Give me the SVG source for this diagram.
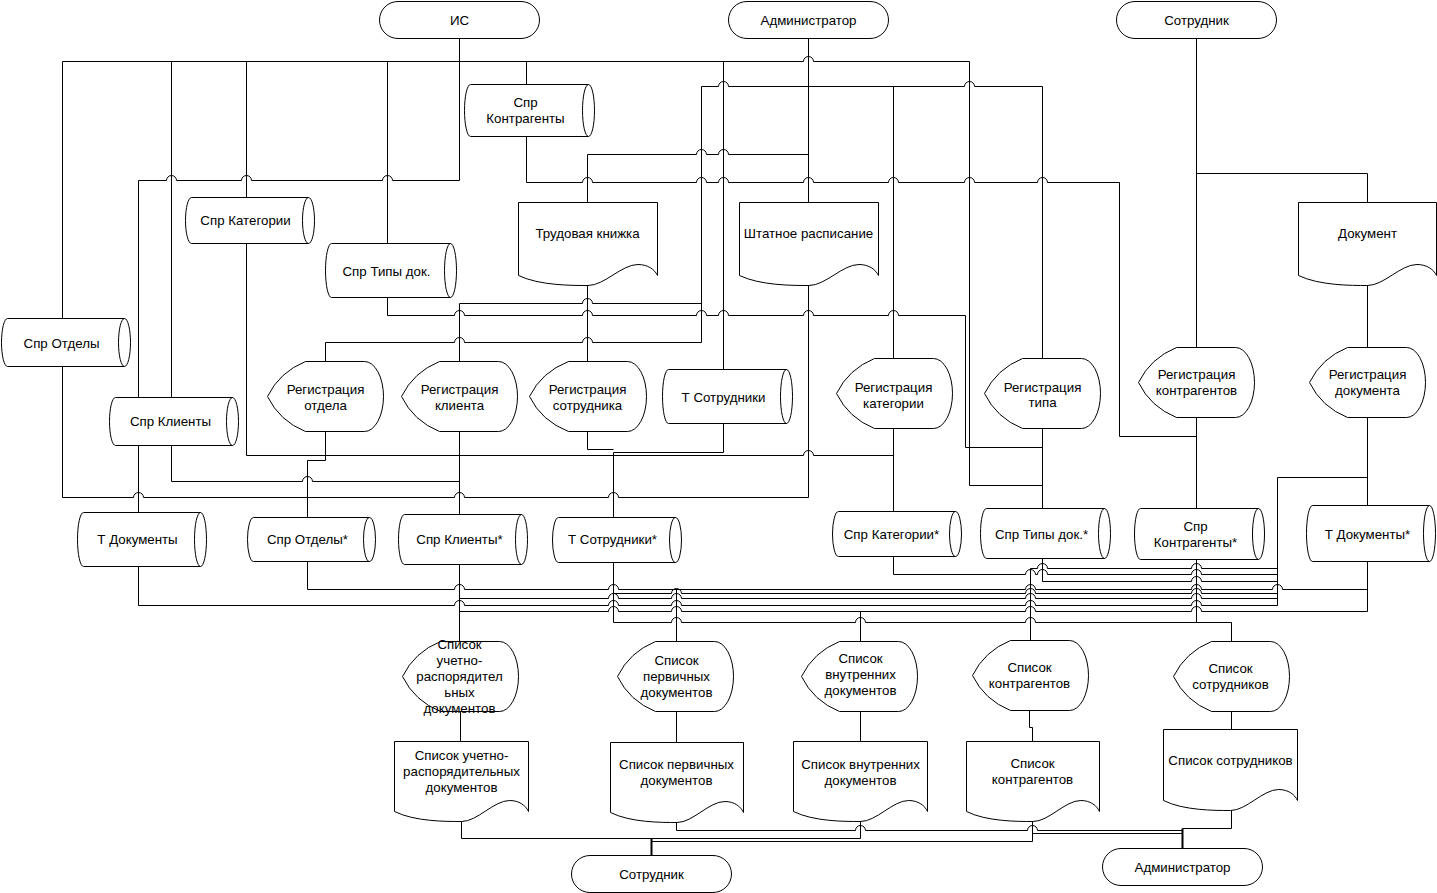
<svg xmlns="http://www.w3.org/2000/svg" width="1437" height="893" viewBox="0 0 1437 893">
<style>
.s{fill:#fff;stroke:#000;stroke-width:1}
.c{fill:none;stroke:#000;stroke-width:1}
text{font-family:"Liberation Sans",Arial,sans-serif;font-size:13.3px;fill:#000;text-anchor:middle}
</style>
<rect x="0" y="0" width="1437" height="893" fill="#fff"/>
<g transform="translate(0.5,0.5)">
<g id="connectors" class="c">
<path d="M459,38 V180 H392 A5,5 0 0 0 382,180 H251 A5,5 0 0 0 241,180 H176 A5,5 0 0 0 166,180 H138 V397"/>
<path d="M62,318 V61 H803 A5,5 0 0 1 813,61 H969 V485 H1042"/>
<path d="M171,61 V397 M246,61 V197 M387,61 V243 M526,61 V84 M723,61 V369"/>
<path d="M62,366 V497 H133 A5,5 0 0 1 143,497 H454 A5,5 0 0 1 464,497 H608 A5,5 0 0 1 618,497 H808 V275"/>
<path d="M246,243 V455 H803 A5,5 0 0 1 813,455 H893"/>
<path d="M171,445 V481 H302 A5,5 0 0 1 312,481 H459"/>
<path d="M138,445 V512"/>
<path d="M387,297 V315 H454 A5,5 0 0 1 464,315 H582 A5,5 0 0 1 592,315 H696 A5,5 0 0 1 706,315 H718 A5,5 0 0 1 728,315 H803 A5,5 0 0 1 813,315 H888 A5,5 0 0 1 898,315 H965 V447 H1042"/>
<path d="M526,136 V182 H582 A5,5 0 0 1 592,182 H696 A5,5 0 0 1 706,182 H718 A5,5 0 0 1 728,182 H803 A5,5 0 0 1 813,182 H888 A5,5 0 0 1 898,182 H964 A5,5 0 0 1 974,182 H1037 A5,5 0 0 1 1047,182 H1119 V436 H1196"/>
<path d="M808,38 V202"/>
<path d="M701,342 V86 H718 A5,5 0 0 1 728,86 H964 A5,5 0 0 1 974,86 H1042 V358 M893,86 V358"/>
<path d="M459,361 V303 H582 A5,5 0 0 1 592,303 H701"/>
<path d="M325,361 V342 H454 A5,5 0 0 1 464,342 H582 A5,5 0 0 1 592,342 H701"/>
<path d="M808,154 H728 A5,5 0 0 0 718,154 H706 A5,5 0 0 0 696,154 H587 V202"/>
<path d="M587,275 V361"/>
<path d="M723,423 V452 H613 V517 M587,431 V449 H613"/>
<path d="M325,431 V460 H307 V517"/>
<path d="M459,431 V514"/>
<path d="M893,428 V511 M1042,428 V508"/>
<path d="M1196,38 V347 M1196,173 H1367 V202 M1367,275 V347"/>
<path d="M1196,417 V508 M1367,417 V505 M1367,477 H1277 V605"/>
<path d="M893,556 V574 H1025 A5,5 0 0 1 1035,574 H1037 A5,5 0 0 1 1047,574 H1191 A5,5 0 0 1 1201,574 H1277"/>
<path d="M1030,640 V568 H1037 A5,5 0 0 1 1047,568 H1191 A5,5 0 0 1 1201,568 H1277"/>
<path d="M1042,558 V581 H1191 A5,5 0 0 1 1201,581 H1277"/>
<path d="M1196,559 V622"/>
<path d="M307,561 V589 H454 A5,5 0 0 1 464,589 H608 A5,5 0 0 1 618,589 H1025 A5,5 0 0 1 1035,589 H1191 A5,5 0 0 1 1201,589 H1272 A5,5 0 0 1 1282,589 H1367"/>
<path d="M676,589 V641"/>
<path d="M613,593 H671 A5,5 0 0 1 681,593 H1025 A5,5 0 0 1 1035,593 H1191 A5,5 0 0 1 1201,593 H1277"/>
<path d="M459,598 H608 A5,5 0 0 1 618,598 H671 A5,5 0 0 1 681,598 H1025 A5,5 0 0 1 1035,598 H1191 A5,5 0 0 1 1201,598 H1277"/>
<path d="M138,566 V605 H454 A5,5 0 0 1 464,605 H608 A5,5 0 0 1 618,605 H671 A5,5 0 0 1 681,605 H1025 A5,5 0 0 1 1035,605 H1191 A5,5 0 0 1 1201,605 H1277"/>
<path d="M459,611 H608 A5,5 0 0 1 618,611 H671 A5,5 0 0 1 681,611 H1025 A5,5 0 0 1 1035,611 H1191 A5,5 0 0 1 1201,611 H1367 V561"/>
<path d="M860,611 V641"/>
<path d="M613,562 V622 H671 A5,5 0 0 1 681,622 H855 A5,5 0 0 1 865,622 H1025 A5,5 0 0 1 1035,622 H1231 V641"/>
<path d="M459,564 V641"/>
<path d="M460,711 V741 M676,711 V742 M860,711 V741 M1029,710 V727 H1032 V741 M1231,711 V729"/>
<path d="M461,815 V838 H860 V815"/>
<path d="M651,838 V855" stroke-width="2"/>
<path d="M676,815 V830 H855 A5,5 0 0 1 865,830 H1027 A5,5 0 0 1 1037,830 H1182"/>
<path d="M1182,828 V848" stroke-width="2"/>
<path d="M1032,815 V841 H651"/>
<path d="M1032,833 H1182"/>
<path d="M1231,800 V828 H1182"/>
</g>

<g id="t-is"><rect class="s" x="379" y="1" width="160" height="37" rx="18.5"/><text x="459" y="24">ИС</text></g>
<g id="t-admin-top"><rect class="s" x="728" y="1" width="160" height="37" rx="18.5"/><text x="808" y="24">Администратор</text></g>
<g id="t-sotr-top"><rect class="s" x="1116" y="1" width="160" height="37" rx="18.5"/><text x="1196" y="24">Сотрудник</text></g>
<g id="t-sotr-bottom"><rect class="s" x="571" y="855" width="160" height="37" rx="18.5"/><text x="651" y="878">Сотрудник</text></g>
<g id="t-admin-bottom"><rect class="s" x="1102" y="848" width="160" height="37" rx="18.5"/><text x="1182" y="871">Администратор</text></g>

<g id="ds-kontragenty"><path class="s" d="M470,84 H588 A6,26 0 0 1 588,136 H470 A6,26 0 0 1 470,84 Z M588,84 A6,26 0 0 0 588,136"/><text x="525" y="106">Спр</text><text x="525" y="122">Контрагенты</text></g>
<g id="ds-kategorii"><path class="s" d="M191,197 H308 A6,23 0 0 1 308,243 H191 A6,23 0 0 1 191,197 Z M308,197 A6,23 0 0 0 308,243"/><text x="245" y="224">Спр Категории</text></g>
<g id="ds-tipy"><path class="s" d="M331,243 H450 A6,27 0 0 1 450,297 H331 A6,27 0 0 1 331,243 Z M450,243 A6,27 0 0 0 450,297"/><text x="386" y="275">Спр Типы док.</text></g>
<g id="ds-otdely"><path class="s" d="M7,318 H124 A6,24 0 0 1 124,366 H7 A6,24 0 0 1 7,318 Z M124,318 A6,24 0 0 0 124,366"/><text x="61" y="347">Спр Отделы</text></g>
<g id="ds-klienty"><path class="s" d="M115,397 H232 A6,24 0 0 1 232,445 H115 A6,24 0 0 1 115,397 Z M232,397 A6,24 0 0 0 232,445"/><text x="170" y="425">Спр Клиенты</text></g>
<g id="ds-t-sotr"><path class="s" d="M668,369 H786 A6,27 0 0 1 786,423 H668 A6,27 0 0 1 668,369 Z M786,369 A6,27 0 0 0 786,423"/><text x="723" y="401">Т Сотрудники</text></g>
<g id="ds-t-doc"><path class="s" d="M83,512 H200 A6,27 0 0 1 200,566 H83 A6,27 0 0 1 83,512 Z M200,512 A6,27 0 0 0 200,566"/><text x="137" y="543">Т Документы</text></g>
<g id="ds-otdely2"><path class="s" d="M253,517 H369 A6,22 0 0 1 369,561 H253 A6,22 0 0 1 253,517 Z M369,517 A6,22 0 0 0 369,561"/><text x="307" y="543">Спр Отделы*</text></g>
<g id="ds-klienty2"><path class="s" d="M404,514 H521 A6,25 0 0 1 521,564 H404 A6,25 0 0 1 404,514 Z M521,514 A6,25 0 0 0 521,564"/><text x="459" y="543">Спр Клиенты*</text></g>
<g id="ds-t-sotr2"><path class="s" d="M558,517 H675 A6,22.5 0 0 1 675,562 H558 A6,22.5 0 0 1 558,517 Z M675,517 A6,22.5 0 0 0 675,562"/><text x="612" y="543">Т Сотрудники*</text></g>
<g id="ds-kategorii2"><path class="s" d="M838,511 H955 A6,22.5 0 0 1 955,556 H838 A6,22.5 0 0 1 838,511 Z M955,511 A6,22.5 0 0 0 955,556"/><text x="891" y="538">Спр Категории*</text></g>
<g id="ds-tipy2"><path class="s" d="M986,508 H1104 A6,25 0 0 1 1104,558 H986 A6,25 0 0 1 986,508 Z M1104,508 A6,25 0 0 0 1104,558"/><text x="1041" y="538">Спр Типы док.*</text></g>
<g id="ds-kontragenty2"><path class="s" d="M1140,508 H1258 A6,25.5 0 0 1 1258,559 H1140 A6,25.5 0 0 1 1140,508 Z M1258,508 A6,25.5 0 0 0 1258,559"/><text x="1195" y="530">Спр</text><text x="1195" y="546">Контрагенты*</text></g>
<g id="ds-t-doc2"><path class="s" d="M1312,505 H1429 A6,28 0 0 1 1429,561 H1312 A6,28 0 0 1 1312,505 Z M1429,505 A6,28 0 0 0 1429,561"/><text x="1367" y="538">Т Документы*</text></g>

<g id="doc-trud"><path class="s" d="M518,202 H657 V275 C654.2,269 647.3,264 637.5,264 C620.9,264 604.2,285 587.5,285 C570.8,285 538.9,285 518,275 Z"/><text x="587" y="237">Трудовая книжка</text></g>
<g id="doc-shtat"><path class="s" d="M739,202 H878 V275 C875.2,269 868.3,264 858.5,264 C841.9,264 825.2,285 808.5,285 C791.8,285 759.9,285 739,275 Z"/><text x="808" y="237">Штатное расписание</text></g>
<g id="doc-dokument"><path class="s" d="M1298,202 H1436 V275 C1433.2,269 1426.3,264 1416.5,264 C1400,264 1383.5,285 1367,285 C1350.4,285 1318.7,285 1298,275 Z"/><text x="1367" y="237">Документ</text></g>
<g id="doc-list-ur"><path class="s" d="M394,741 H528 V811 C525.3,805 518.6,800 509.2,800 C493.2,800 477.1,821 461,821 C444.9,821 414.1,821 394,811 Z"/><text x="461" y="759">Список учетно-</text><text x="461" y="775">распорядительных</text><text x="461" y="791">документов</text></g>
<g id="doc-list-perv"><path class="s" d="M610,742 H743 V812 C740.3,806 733.7,801 724.4,801 C708.4,801 692.5,822 676.5,822 C660.5,822 630,822 610,812 Z"/><text x="676" y="768">Список первичных</text><text x="676" y="784">документов</text></g>
<g id="doc-list-vnutr"><path class="s" d="M793,741 H927 V811 C924.3,805 917.6,800 908.2,800 C892.2,800 876.1,821 860,821 C843.9,821 813.1,821 793,811 Z"/><text x="860" y="768">Список внутренних</text><text x="860" y="784">документов</text></g>
<g id="doc-list-kontr"><path class="s" d="M966,741 H1099 V811 C1096.3,805 1089.7,800 1080.4,800 C1064.4,800 1048.5,821 1032.5,821 C1016.5,821 986,821 966,811 Z"/><text x="1032" y="767">Список</text><text x="1032" y="783">контрагентов</text></g>
<g id="doc-list-sotr"><path class="s" d="M1163,729 H1297 V800 C1294.3,794 1287.6,789 1278.2,789 C1262.2,789 1246.1,810 1230,810 C1213.9,810 1183.1,810 1163,800 Z"/><text x="1230" y="764">Список сотрудников</text></g>

<g id="p-reg-otdel"><path class="s" d="M305,361 H364 A19,35 0 0 1 364,431 H305 Q279,420.5 267,396 Q279,371.5 305,361 Z"/><text x="325" y="393">Регистрация</text><text x="325" y="409">отдела</text></g>
<g id="p-reg-klient"><path class="s" d="M439,361 H498 A19,35 0 0 1 498,431 H439 Q413,420.5 401,396 Q413,371.5 439,361 Z"/><text x="459" y="393">Регистрация</text><text x="459" y="409">клиента</text></g>
<g id="p-reg-sotr"><path class="s" d="M568,361 H627 A19,35 0 0 1 627,431 H568 Q541,420.5 529,396 Q541,371.5 568,361 Z"/><text x="587" y="393">Регистрация</text><text x="587" y="409">сотрудника</text></g>
<g id="p-reg-kat"><path class="s" d="M874,358 H933 A19,35 0 0 1 933,428 H874 Q848,417.5 836,393 Q848,368.5 874,358 Z"/><text x="893" y="391">Регистрация</text><text x="893" y="407">категории</text></g>
<g id="p-reg-tip"><path class="s" d="M1022,358 H1081 A19,35 0 0 1 1081,428 H1022 Q996,417.5 984,393 Q996,368.5 1022,358 Z"/><text x="1042" y="391">Регистрация</text><text x="1042" y="406">типа</text></g>
<g id="p-reg-kontr"><path class="s" d="M1176,347 H1235 A19,35 0 0 1 1235,417 H1176 Q1150,406.5 1138,382 Q1150,357.5 1176,347 Z"/><text x="1196" y="378">Регистрация</text><text x="1196" y="394">контрагентов</text></g>
<g id="p-reg-doc"><path class="s" d="M1347,347 H1406 A19,35 0 0 1 1406,417 H1347 Q1321,406.5 1309,382 Q1321,357.5 1347,347 Z"/><text x="1367" y="378">Регистрация</text><text x="1367" y="394">документа</text></g>
<g id="p-list-ur"><path class="s" d="M440,641 H499 A19,35 0 0 1 499,711 H440 Q414,700.5 402,676 Q414,651.5 440,641 Z"/><text x="459" y="648">Список</text><text x="459" y="664">учетно-</text><text x="459" y="680">распорядител</text><text x="459" y="696">ьных</text><text x="459" y="712">документов</text></g>
<g id="p-list-perv"><path class="s" d="M655,641 H714 A19,35 0 0 1 714,711 H655 Q629,700.5 617,676 Q629,651.5 655,641 Z"/><text x="676" y="664">Список</text><text x="676" y="680">первичных</text><text x="676" y="696">документов</text></g>
<g id="p-list-vnutr"><path class="s" d="M839,641 H898 A19,35 0 0 1 898,711 H839 Q813,700.5 801,676 Q813,651.5 839,641 Z"/><text x="860" y="662">Список</text><text x="860" y="678">внутренних</text><text x="860" y="694">документов</text></g>
<g id="p-list-kontr"><path class="s" d="M1010,640 H1069 A19,35 0 0 1 1069,710 H1010 Q984,699.5 972,675 Q984,650.5 1010,640 Z"/><text x="1029" y="671">Список</text><text x="1029" y="687">контрагентов</text></g>
<g id="p-list-sotr"><path class="s" d="M1211,641 H1270 A19,35 0 0 1 1270,711 H1211 Q1185,700.5 1173,676 Q1185,651.5 1211,641 Z"/><text x="1230" y="672">Список</text><text x="1230" y="688">сотрудников</text></g>
</g>
</svg>
